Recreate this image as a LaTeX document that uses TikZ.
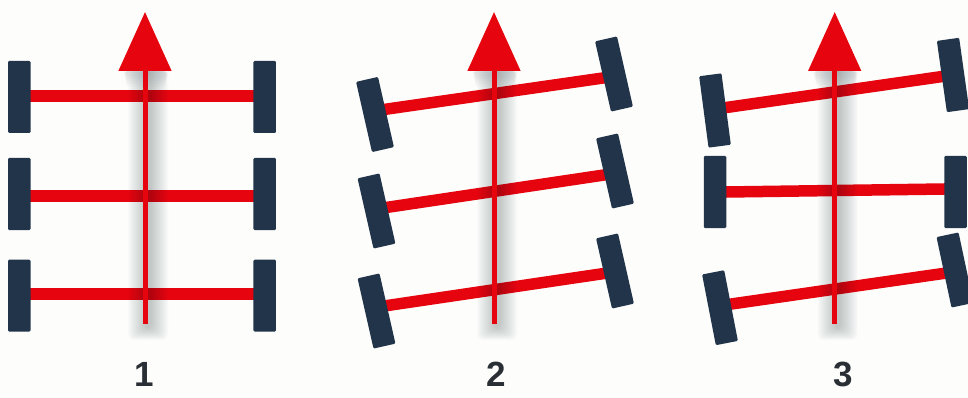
\documentclass[tikz,border=0pt]{standalone}
\usepackage{fontspec}
\setmainfont{Liberation Sans}
\usetikzlibrary{arrows.meta}
\pgfdeclarelayer{under}
\pgfsetlayers{under,main}
\definecolor{bgc}{HTML}{FDFDFB}
\definecolor{wheelc}{HTML}{21344A}
\definecolor{redc}{HTML}{E6040F}
\definecolor{labelc}{HTML}{2A2E35}
\definecolor{shadec}{HTML}{2C3A44}
\tikzset{
  wheel/.style={draw=none,fill=wheelc,rounded corners=1.2pt,minimum width=22.5pt,minimum height=72pt,inner sep=0pt,outer sep=0pt},
  axle/.style={draw=redc,line width=11.5pt,shorten <=-2pt,shorten >=-2pt},
  travel/.style={draw=redc,fill=redc,line width=5pt,-{Triangle[length=59pt,width=52pt]}},
  num/.style={font=\bfseries\fontsize{35}{35}\selectfont,text=labelc,inner sep=0pt}
}
\newcommand{\blurbar}[1]{%
  \foreach \w in {40,38,...,6}{
    \fill[shadec,opacity=0.016,rounded corners=5pt] (#1+3-\w/2,71) rectangle (#1+3+\w/2,{340-(40-\w)*0.35});
  }%
  \foreach \h in {2,4,...,16}{
    \fill[shadec,opacity=0.018,rounded corners=3pt] (#1+1-19-\h/4,71) rectangle (#1+1+19+\h/4,71+18-\h);
  }%
}
\begin{document}
\begin{tikzpicture}[x=1pt,y=-1pt]
\useasboundingbox (0,0) rectangle (968,398);
\clip (0,0) rectangle (968,398);
% wheels, panel 1
\node[wheel] (a1l) at (19.3,97) {};
\node[wheel] (a1r) at (264.7,97) {};
\node[wheel] (a2l) at (19.3,194) {};
\node[wheel] (a2r) at (264.7,194) {};
\node[wheel] (a3l) at (19.3,295.6) {};
\node[wheel] (a3r) at (264.7,295.6) {};
% wheels, panel 2
\node[wheel,rotate=12.8] (b1l) at (375,114.5) {};
\node[wheel,rotate=12.8] (b1r) at (614,74) {};
\node[wheel,rotate=12.8] (b2l) at (376.5,211) {};
\node[wheel,rotate=12.8] (b2r) at (615,171) {};
\node[wheel,rotate=12.8] (b3l) at (376.5,311) {};
\node[wheel,rotate=12.8] (b3r) at (615,271) {};
% wheels, panel 3
\node[wheel,rotate=7.5] (c1l) at (715,110.5) {};
\node[wheel,rotate=8] (c1r) at (953,75) {};
\node[wheel] (c2l) at (715,192) {};
\node[wheel] (c2r) at (955.5,192) {};
\node[wheel,rotate=11] (c3l) at (720,307.7) {};
\node[wheel,rotate=12] (c3r) at (955,270) {};
% arrow ends
\coordinate (atail) at (145,324);
\coordinate (atip) at (145,12);
\coordinate (btail) at (494,324);
\coordinate (btip) at (494,12);
\coordinate (ctail) at (834.7,324);
\coordinate (ctip) at (834.7,12);
\begin{pgfonlayer}{under}
\fill[bgc] (0,0) rectangle (968,398);
\draw[axle] ([yshift=1pt]a1l.east) -- ([yshift=1pt]a1r.west);
\draw[axle] ([yshift=-2pt]a2l.east) -- ([yshift=-2pt]a2r.west);
\draw[axle] ([yshift=1.5pt]a3l.east) -- ([yshift=1.5pt]a3r.west);
\draw[axle] ([yshift=2.8pt]b1l.east) -- ([yshift=-1.5pt]b1r.west);
\draw[axle] ([yshift=1.2pt]b2l.east) -- ([yshift=-1.5pt]b2r.west);
\draw[axle] ([yshift=3pt]b3l.east) -- (b3r.west);
\draw[axle] ([yshift=1.5pt]c1l.east) -- (c1r.west);
\draw[axle] (c2l.east) -- ([yshift=3pt]c2r.west);
\draw[axle] ([yshift=1.5pt]c3l.east) -- ([yshift=-1pt]c3r.west);
\blurbar{145}
\blurbar{494}
\blurbar{834.7}
\draw[travel] (atail) -- (atip);
\draw[travel] (btail) -- (btip);
\draw[travel] (ctail) -- (ctip);
\end{pgfonlayer}
\node[num] (n1) at (144,374) {1};
\node[num] (n2) at (496,374) {2};
\node[num] (n3) at (843,374) {3};
\end{tikzpicture}
\end{document}
